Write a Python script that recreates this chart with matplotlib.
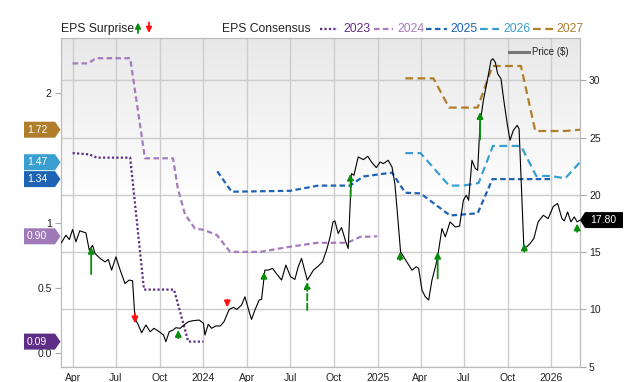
import numpy as np
import pandas as pd
import matplotlib
matplotlib.use('Agg')
import matplotlib.pyplot as plt
from matplotlib.lines import Line2D
from matplotlib.patches import Polygon
from matplotlib.transforms import IdentityTransform

plt.rcParams['font.family'] = ['Liberation Sans', 'DejaVu Sans']

# price ($), right axis
price_dates = ['2023-03-08', '2023-03-18', '2023-03-25', '2023-04-01', '2023-04-08', '2023-04-16',
               '2023-04-29', '2023-05-06', '2023-05-13', '2023-05-18', '2023-05-29', '2023-06-08',
               '2023-06-15', '2023-06-22', '2023-07-01', '2023-07-10', '2023-07-20', '2023-07-29',
               '2023-08-05', '2023-08-10', '2023-08-17', '2023-08-24', '2023-09-02', '2023-09-11',
               '2023-09-19', '2023-09-30', '2023-10-09', '2023-10-14', '2023-10-21', '2023-10-29',
               '2023-11-04', '2023-11-13', '2023-11-21', '2023-11-30', '2023-12-09', '2023-12-23',
               '2024-01-01', '2024-01-04', '2024-01-11', '2024-01-18', '2024-01-27', '2024-02-05',
               '2024-02-13', '2024-02-24', '2024-03-04', '2024-03-11', '2024-03-21', '2024-03-28',
               '2024-04-08', '2024-04-11', '2024-04-18', '2024-04-27', '2024-05-02', '2024-05-09',
               '2024-05-16', '2024-05-25', '2024-06-02', '2024-06-13', '2024-06-22', '2024-07-02',
               '2024-07-11', '2024-07-18', '2024-07-25', '2024-08-06', '2024-08-19', '2024-08-29',
               '2024-09-07', '2024-09-16', '2024-09-23', '2024-09-29', '2024-10-03', '2024-10-10',
               '2024-10-17', '2024-10-26', '2024-10-31', '2024-11-07', '2024-11-12', '2024-11-21',
               '2024-12-02', '2024-12-11', '2024-12-19', '2024-12-29', '2025-01-06', '2025-01-13',
               '2025-01-23', '2025-01-31', '2025-02-06', '2025-02-12', '2025-02-18', '2025-03-03',
               '2025-03-14', '2025-03-23', '2025-03-28', '2025-04-04', '2025-04-11', '2025-04-18',
               '2025-04-25', '2025-05-04', '2025-05-09', '2025-05-16', '2025-05-23', '2025-06-02',
               '2025-06-13', '2025-06-22', '2025-06-30', '2025-07-06', '2025-07-11', '2025-07-18',
               '2025-07-25', '2025-07-30', '2025-08-04', '2025-08-11', '2025-08-22', '2025-08-27',
               '2025-08-31', '2025-09-05', '2025-09-10', '2025-09-17', '2025-09-22', '2025-09-30',
               '2025-10-06', '2025-10-13', '2025-10-21', '2025-10-25', '2025-11-04', '2025-11-10',
               '2025-11-17', '2025-11-25', '2025-12-04', '2025-12-15', '2025-12-25', '2026-01-05',
               '2026-01-14', '2026-01-23', '2026-01-28', '2026-02-04', '2026-02-11', '2026-02-18',
               '2026-02-24', '2026-03-02']
price_values = [15.80, 16.48, 16.10, 16.98, 15.90, 16.86,
                16.68, 15.17, 15.60, 14.88, 14.45, 14.15,
                14.36, 13.43, 14.59, 13.43, 12.27, 12.56,
                12.50, 9.22, 8.64, 7.96, 8.64, 8.05,
                8.35, 8.05, 7.76, 7.18, 8.05, 8.20,
                8.40, 8.35, 8.64, 8.92, 9.01, 9.07,
                8.78, 7.76, 8.70, 8.35, 8.55, 8.55,
                8.92, 10.00, 10.18, 10.00, 10.38, 11.10,
                9.50, 9.13, 9.94, 10.82, 10.88, 13.43,
                13.43, 13.58, 13.14, 12.56, 13.87, 12.85,
                12.62, 13.72, 14.45, 12.56, 13.43, 13.78,
                14.15, 15.24, 16.33, 17.64, 17.73, 16.63,
                17.15, 15.90, 15.32, 21.86, 21.71, 23.31,
                23.08, 23.37, 22.87, 22.38, 22.87, 22.73,
                23.02, 22.44, 20.99, 18.10, 15.03, 14.15,
                13.43, 13.72, 13.58, 11.69, 11.10, 10.82,
                12.56, 14.01, 15.17, 17.06, 16.33, 17.64,
                17.20, 17.27, 19.53, 19.97, 19.53, 23.02,
                22.30, 22.15, 26.22, 28.25, 30.58, 31.74,
                31.89, 31.59, 30.58, 30.14, 28.54, 26.22,
                24.77, 25.64, 26.07, 25.78, 15.46, 15.46,
                15.75, 16.19, 17.64, 18.22, 17.93, 19.00,
                19.25, 17.93, 17.73, 18.51, 17.64, 18.08,
                17.64, 17.80]

# EPS consensus by fiscal year, left axis
eps_2023_dates = ['2023-04-01', '2023-05-06', '2023-05-22', '2023-07-31', '2023-08-29',
                  '2023-10-31', '2023-11-30', '2024-01-01']
eps_2023 = [1.54, 1.53, 1.505, 1.505, 0.49, 0.49, 0.09, 0.09]

eps_2024_dates = ['2023-04-01', '2023-05-04', '2023-05-20', '2023-07-31', '2023-08-31',
                  '2023-10-29', '2023-11-08', '2023-11-23', '2023-12-14', '2024-01-01',
                  '2024-01-29', '2024-02-26', '2024-04-29', '2024-07-01', '2024-08-27',
                  '2024-10-29', '2024-11-25', '2024-12-31']
eps_2024 = [2.23, 2.23, 2.27, 2.27, 1.50, 1.50, 1.27, 1.07, 0.96, 0.95,
            0.91, 0.78, 0.78, 0.82, 0.85, 0.85, 0.895, 0.90]

eps_2025_dates = ['2024-01-30', '2024-02-29', '2024-07-01', '2024-08-29', '2024-11-04',
                  '2024-12-02', '2025-01-31', '2025-02-28', '2025-04-01', '2025-06-02',
                  '2025-07-30', '2025-08-30', '2026-01-05']
eps_2025 = [1.40, 1.243, 1.25, 1.29, 1.29, 1.36, 1.39, 1.235, 1.23, 1.06, 1.077, 1.34, 1.34]

eps_2026_dates = ['2025-02-28', '2025-04-01', '2025-05-31', '2025-06-30', '2025-08-01',
                  '2025-08-31', '2025-10-29', '2025-11-30', '2025-12-30', '2026-01-30',
                  '2026-03-02']
eps_2026 = [1.54, 1.54, 1.29, 1.29, 1.31, 1.595, 1.595, 1.364, 1.364, 1.346, 1.47]

eps_2027_dates = ['2025-02-28', '2025-04-28', '2025-05-31', '2025-07-30', '2025-08-30',
                  '2025-10-29', '2025-11-28', '2026-01-30', '2026-03-02']
eps_2027 = [2.115, 2.115, 1.89, 1.89, 2.21, 2.21, 1.71, 1.71, 1.72]

# EPS surprises (arrow from tail to tip, in price units)
surprise_dates = ['2023-05-10', '2023-08-10', '2023-11-09', '2024-02-20', '2024-05-07',
                  '2024-08-06', '2024-11-05', '2025-02-17', '2025-05-07', '2025-08-04',
                  '2025-11-05', '2026-02-24']
surprise_tail = [13.08, 9.65, 7.48, 10.82, 12.73, 9.94, 19.82, 14.30, 12.70, 24.83, 15.03, 16.77]
surprise_tip = [15.46, 8.78, 8.20, 10.18, 13.28, 12.41, 21.86, 15.03, 15.03, 27.23, 15.76, 17.50]
surprise_large = [False, False, False, False, False, True, True, False, False, False, False, False]

c2023, c2024, c2025, c2026, c2027 = '#5e2d85', '#a47cbd', '#1f63b5', '#3a9fd0', '#b07d2b'
green, red = '#0c8c0c', '#ff1010'
grid_c = '#cccccc'

fig = plt.figure(figsize=(6.4, 3.82), dpi=100)
L, R, T, B = 60.7, 580, 38, 367
ax = fig.add_axes([L / 640, 1 - B / 382, (R - L) / 640, (B - T) / 382])
ax_eps = ax.twinx()
ax_top = ax.twinx()

xmin, xmax = pd.Timestamp('2023-03-07'), pd.Timestamp('2026-03-02')

# background gradient (grey at top fading to white)
rows = np.linspace(0, 1, 300)
shade = np.clip(0.91 + 0.09 * rows / 0.5, 0, 1.0)
grad = np.repeat(shade[:, None, None], 3, axis=2)
ax.imshow(grad, extent=[0, 1, 0, 1], transform=ax.transAxes, aspect='auto', zorder=0)

# price axis (right) with grid
ax.set_xlim(xmin, xmax)
ax.set_ylim(4.97, 33.7)
ax.yaxis.tick_right()
ax.set_yticks([5, 10, 15, 20, 25, 30])
ax.grid(True, color=grid_c, lw=1.0)
ax.set_axisbelow(True)

qt = pd.date_range('2023-04-01', '2026-01-01', freq='QS')
ax.set_xticks(qt)
ax.set_xticklabels([str(d.year) if d.month == 1 else d.strftime('%b') for d in qt])
ax.tick_params(axis='x', length=0, pad=4.5, labelsize=7.5, labelcolor='#222222')
ax.tick_params(axis='y', right=True, left=False, labelright=True, labelleft=False,
               length=4.5, color='#aaaaaa', pad=2, labelsize=7.5, labelcolor='#222222')

# EPS axis (left)
ax_eps.set_xlim(xmin, xmax)
ax_eps.set_ylim(-0.1054, 2.4254)
ax_eps.yaxis.tick_left()
ax_eps.set_yticks([0, 0.5, 1, 2])
ax_eps.set_yticklabels(['0.0', '0.5', '1', '2'])
ax_eps.tick_params(axis='y', length=4.5, color='#aaaaaa', pad=2, labelsize=7.5, labelcolor='#222222')

ax_eps.plot(pd.to_datetime(eps_2023_dates), eps_2023, color=c2023, lw=1.6, ls=(0, (1, 1)))
ax_eps.plot(pd.to_datetime(eps_2024_dates), eps_2024, color=c2024, lw=1.6, ls=(0, (2.5, 1.5)))
ax_eps.plot(pd.to_datetime(eps_2025_dates), eps_2025, color=c2025, lw=1.6, ls=(0, (2.5, 1.5)))
ax_eps.plot(pd.to_datetime(eps_2026_dates), eps_2026, color=c2026, lw=1.6, ls=(0, (3.5, 2)))
ax_eps.plot(pd.to_datetime(eps_2027_dates), eps_2027, color=c2027, lw=1.6, ls=(0, (3.5, 2)))

# price line + surprise arrows on top
ax_top.set_xlim(xmin, xmax)
ax_top.set_ylim(4.97, 33.7)
ax_top.axis('off')
ax_top.plot(pd.to_datetime(price_dates), price_values, color='black', lw=0.8)
for d, t0, t1, big in zip(pd.to_datetime(surprise_dates), surprise_tail, surprise_tip, surprise_large):
    col = green if t1 > t0 else red
    ax_top.annotate('', xy=(d, t1), xytext=(d, t0),
                    arrowprops=dict(arrowstyle='-|>', color=col, lw=1.3, mutation_scale=9,
                                    shrinkA=0, shrinkB=0, linestyle='--' if big else '-'))

for a in (ax, ax_eps):
    for s in a.spines.values():
        s.set_color('#bbbbbb')

# badges for last values
fig.canvas.draw()
def badge(y, x0, x1, tip, color, text):
    pts = [(x0, y - 8), (x1, y - 8), (tip, y), (x1, y + 8), (x0, y + 8)]
    fig.add_artist(Polygon(pts, closed=True, facecolor=color, edgecolor='none',
                           transform=IdentityTransform()))
    fig.text(x0 + 3 if x0 < x1 else x1 + 5, y, text, color='white', fontsize=7.5,
             va='center', ha='left', transform=IdentityTransform())

for val, col in [(eps_2027[-1], c2027), (eps_2026[-1], c2026), (eps_2025[-1], c2025),
                 (eps_2024[-1], '#a07ab8'), (eps_2023[-1], c2023)]:
    yd = ax_eps.transData.transform((0, val))[1]
    badge(yd, 24, 55, 60.5, col, f'{val:.2f}')
yd = ax.transData.transform((0, price_values[-1]))[1]
badge(yd, 623, 585, 580, 'black', f'{price_values[-1]:.2f}')

# header
def fx(x):
    return x / 640
def fy(y):
    return 1 - y / 382

hy = 28.7
fig.text(fx(60.7), fy(hy), 'EPS Surprise', fontsize=8.7, color='#222222', va='center')
ax.annotate('', xy=(138, 382 - 22.5), xytext=(138, 382 - 33), xycoords='figure pixels',
            arrowprops=dict(arrowstyle='-|>', color=green, lw=1.3, mutation_scale=8, shrinkA=0, shrinkB=0))
ax.annotate('', xy=(149, 382 - 33), xytext=(149, 382 - 22.5), xycoords='figure pixels',
            arrowprops=dict(arrowstyle='-|>', color=red, lw=1.3, mutation_scale=8, shrinkA=0, shrinkB=0))
fig.text(fx(222.5), fy(hy), 'EPS Consensus', fontsize=8.7, color='#222222', va='center')

legend_items = [('2023', c2023, (0, (1, 1)), 320, 338, 343),
                ('2024', c2024, (0, (2.5, 1.5)), 374, 393, 397),
                ('2025', c2025, (0, (2.5, 1.5)), 426, 447, 450),
                ('2026', c2026, (0, (3.5, 2)), 480, 499, 503),
                ('2027', c2027, (0, (3.5, 2)), 533, 553, 556)]
for lab, col, ls, x0, x1, xt in legend_items:
    fig.add_artist(Line2D([fx(x0), fx(x1)], [fy(hy), fy(hy)], color=col, lw=1.6, ls=ls))
    fig.text(fx(xt), fy(hy), lab, fontsize=8.7, color=col, va='center')

# price legend
fig.add_artist(Line2D([fx(509), fx(529)], [fy(51.6), fy(51.6)], color='#777777', lw=2.2))
fig.text(fx(532), fy(51.6), 'Price ($)', fontsize=7, color='#222222', va='center')

fig.savefig('out.png', dpi=100)
